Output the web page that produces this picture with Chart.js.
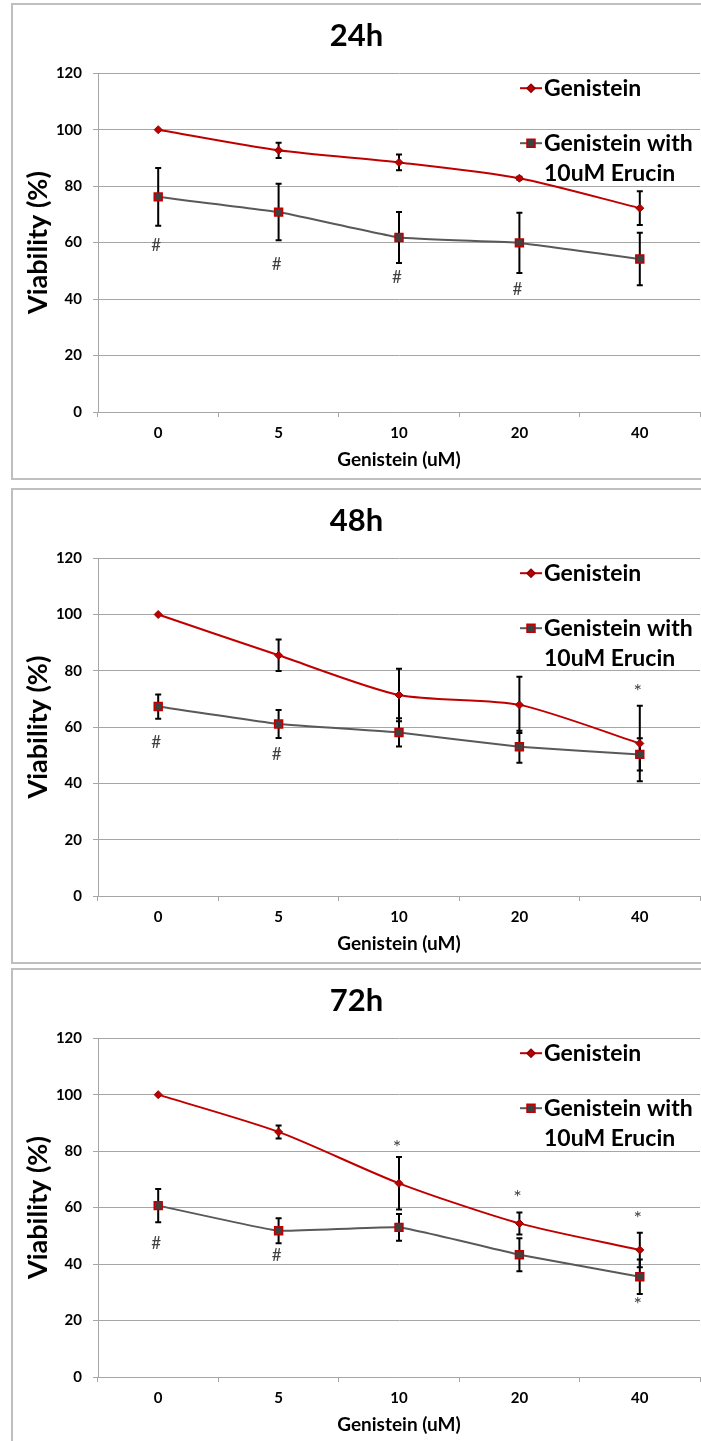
<!DOCTYPE html>
<html>
<head>
<meta charset="utf-8">
<script src="https://cdn.jsdelivr.net/npm/chart.js@4"></script>
<style>
body { margin: 0; width: 701px; height: 1441px; overflow: hidden; background: #fff; position: relative; }
.panel { position: absolute; left: 11px; width: 716px; height: 473px; border: 2px solid #bfbfbf; background: #fff; }
canvas { display: block; }
</style>
</head>
<body>
<div class="panel" style="top:3px"><canvas id="c24" width="716" height="473"></canvas></div>
<div class="panel" style="top:488px;height:472px"><canvas id="c48" width="716" height="472"></canvas></div>
<div class="panel" style="top:968px"><canvas id="c72" width="716" height="473"></canvas></div>
<script>
// x categories (Genistein dose, uM)
const doses = ['0', '5', '10', '20', '40'];

// 24h
const gen24 = [100, 92.7, 88.4, 82.8, 72.2];
const gen24Err = [0, 2.7, 2.8, 0.5, 6.0];
const eru24 = [76.2, 70.8, 61.8, 59.9, 54.2];
const eru24Err = [10.2, 10.0, 9.0, 10.7, 9.3];
const marks24 = [['#', 0, 59.1], ['#', 1, 52.4], ['#', 2, 47.8], ['#', 3, 43.5]];

// 48h
const gen48 = [100, 85.5, 71.4, 67.9, 54.2];
const gen48Err = [0, 5.6, 9.3, 10.0, 13.4];
const eru48 = [67.3, 61.1, 58.1, 53.0, 50.3];
const eru48Err = [4.3, 5.0, 5.0, 5.7, 5.7];
const marks48 = [['#', 0, 54.4], ['#', 1, 50.1], ['*', 4, 73.9]];

// 72h
const gen72 = [100, 86.8, 68.6, 54.4, 45.0];
const gen72Err = [0, 2.3, 9.3, 3.9, 6.1];
const eru72 = [60.7, 51.8, 53.0, 43.3, 35.5];
const eru72Err = [5.9, 4.4, 4.7, 5.8, 6.1];
const marks72 = [['#', 0, 47.2], ['#', 1, 43.0], ['*', 2, 82.7], ['*', 3, 65.0], ['*', 4, 57.5], ['*', 4, 27.0]];

const RED = '#c00000';
const GREY = '#595959';
const DARK = '#404040';
const GRID = '#a6a6a6';
const FONT = 'Lato, "Open Sans", sans-serif';

// black error bars, drawn under the lines/markers
const errorBars = {
    id: 'errorBars',
    beforeDatasetsDraw(chart) {
        const ctx = chart.ctx, xs = chart.scales.x, ys = chart.scales.y;
        ctx.save();
        ctx.strokeStyle = '#000';
        ctx.lineWidth = 2;
        chart.data.datasets.forEach(ds => {
            ds.data.forEach((v, i) => {
                const e = ds.errors[i];
                if (!e) return;
                const px = xs.getPixelForValue(i);
                const top = ys.getPixelForValue(v + e);
                const bot = ys.getPixelForValue(v - e);
                ctx.beginPath();
                ctx.moveTo(px, top); ctx.lineTo(px, bot);
                ctx.moveTo(px - 3, top); ctx.lineTo(px + 3, top);
                ctx.moveTo(px - 3, bot); ctx.lineTo(px + 3, bot);
                ctx.stroke();
            });
        });
        ctx.restore();
    }
};

// significance marks (# / *) + legend inside the plot
const extras = {
    id: 'extras',
    afterDraw(chart) {
        const ctx = chart.ctx, xs = chart.scales.x, ys = chart.scales.y, a = chart.chartArea;
        ctx.save();
        ctx.fillStyle = DARK;
        ctx.textAlign = 'center';
        ctx.textBaseline = 'middle';
        chart.options.marks.forEach(m => {
            // Lato's asterisk sits high, so push it down a bit
            const star = m[0] === '*';
            ctx.font = (star ? '20px ' : '17px ') + FONT;
            ctx.fillText(m[0], xs.getPixelForValue(m[1]) - 2, ys.getPixelForValue(m[2]) + (star ? 4 : 0));
        });

        // legend
        const lx = a.left + 422, tx = a.left + 446;
        const rows = [[a.top + 15], [a.top + 70, a.top + 100]];
        ctx.font = 'bold 23px ' + FONT;
        ctx.textAlign = 'left';
        ctx.fillStyle = '#000';
        chart.data.datasets.forEach((ds, k) => {
            const y = rows[k][0];
            ctx.strokeStyle = ds.borderColor;
            ctx.lineWidth = ds.borderWidth;
            ctx.beginPath(); ctx.moveTo(lx, y); ctx.lineTo(lx + 22, y); ctx.stroke();
            const cx = lx + 11;
            ctx.fillStyle = ds.pointBackgroundColor;
            ctx.strokeStyle = ds.pointBorderColor;
            ctx.lineWidth = 1.5;
            ctx.beginPath();
            if (ds.pointStyle === 'rect') {
                ctx.rect(cx - 4, y - 4, 8, 8);
            } else {
                ctx.moveTo(cx - 4, y); ctx.lineTo(cx, y - 4); ctx.lineTo(cx + 4, y); ctx.lineTo(cx, y + 4); ctx.closePath();
            }
            ctx.fill(); ctx.stroke();
            ctx.fillStyle = '#000';
            const txt = ds.label.split('\n');
            txt.forEach((t, j) => ctx.fillText(t, tx, rows[k][j]));
        });
        ctx.restore();
    }
};

function makeChart(id, title, gen, genErr, eru, eruErr, marks) {
    const ctx = document.getElementById(id).getContext('2d');
    return new Chart(ctx, {
        type: 'line',
        data: {
            labels: doses,
            datasets: [{
                label: 'Genistein',
                data: gen,
                errors: genErr,
                borderColor: RED,
                borderWidth: 2,
                tension: 0.25,
                pointStyle: 'rectRot',
                pointRadius: 4,
                pointBackgroundColor: RED,
                pointBorderColor: '#8b0000',
                pointBorderWidth: 1
            }, {
                label: 'Genistein with\n10uM Erucin',
                data: eru,
                errors: eruErr,
                borderColor: GREY,
                borderWidth: 2,
                tension: 0.1,
                pointStyle: 'rect',
                pointRadius: 5.6,
                pointBackgroundColor: DARK,
                pointBorderColor: RED,
                pointBorderWidth: 1.5
            }]
        },
        options: {
            responsive: false,
            animation: false,
            marks: marks,
            layout: { padding: { left: 0, right: 29, top: 0, bottom: 0 } },
            plugins: {
                legend: { display: false },
                tooltip: { enabled: false },
                title: {
                    display: true,
                    text: title,
                    color: '#000',
                    font: { family: FONT, size: 31, weight: 'bold', lineHeight: 1.2 },
                    padding: { top: 12, bottom: 19 }
                }
            },
            scales: {
                x: {
                    offset: true,
                    grid: { offset: true, drawOnChartArea: false, drawTicks: true, tickLength: 5, color: GRID },
                    border: { color: GRID, width: 1 },
                    ticks: { color: '#000', padding: 7, font: { family: FONT, size: 15, weight: 'bold' } },
                    title: {
                        display: true,
                        text: 'Genistein (uM)',
                        color: '#000',
                        font: { family: FONT, size: 19, weight: 'bold', lineHeight: 1.2 },
                        padding: { top: 0, bottom: 7 }
                    },
                    afterFit(s) { s.height = 66; }
                },
                y: {
                    min: 0,
                    max: 120,
                    ticks: { stepSize: 20, color: '#000', padding: 11, font: { family: FONT, size: 15, weight: 'bold' } },
                    grid: { color: GRID, tickLength: 5, drawTicks: true },
                    border: { color: GRID, width: 1 },
                    title: {
                        display: true,
                        text: 'Viability (%)',
                        color: '#000',
                        font: { family: FONT, size: 27, weight: 'bold', lineHeight: 1.2 },
                        padding: { top: 9, bottom: 0 }
                    },
                    afterFit(s) { s.width = 85; }
                }
            }
        },
        plugins: [errorBars, extras]
    });
}

makeChart('c24', '24h', gen24, gen24Err, eru24, eru24Err, marks24);
makeChart('c48', '48h', gen48, gen48Err, eru48, eru48Err, marks48);
makeChart('c72', '72h', gen72, gen72Err, eru72, eru72Err, marks72);
</script>
</body>
</html>
